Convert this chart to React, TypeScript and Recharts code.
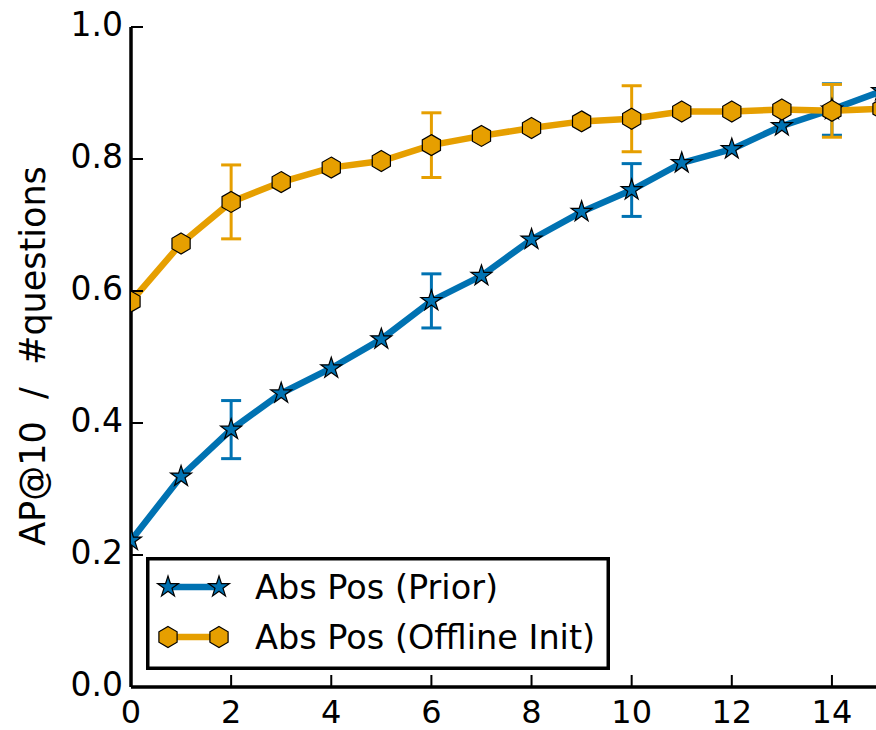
import React from 'react';
import { LineChart, Line, XAxis, YAxis, ErrorBar, Legend } from 'recharts';

const steps = [0, 1, 2, 3, 4, 5, 6, 7, 8, 9, 10, 11, 12, 13, 14, 15];
const prior = [0.222, 0.319, 0.39, 0.445, 0.483, 0.527, 0.585, 0.623, 0.678, 0.72, 0.753, 0.794, 0.815, 0.85, 0.875, 0.903];
const offline = [0.584, 0.672, 0.735, 0.765, 0.787, 0.797, 0.821, 0.835, 0.847, 0.857, 0.861, 0.872, 0.872, 0.875, 0.873, 0.876];
const priorErr = [null, null, 0.044, null, null, null, 0.041, null, null, null, 0.04, null, null, null, 0.039, null];
const offlineErr = [null, null, 0.056, null, null, null, 0.049, null, null, null, 0.05, null, null, null, 0.04, null];
const xTicks = [0, 2, 4, 6, 8, 10, 12, 14];
const yTicks = [0, 0.2, 0.4, 0.6, 0.8, 1.0];

const PRIOR_NAME = 'Abs Pos (Prior)';
const OFFLINE_NAME = 'Abs Pos (Offline Init)';
const legendOrder = [PRIOR_NAME, OFFLINE_NAME];
const BLUE = '#0072B2';
const ORANGE = '#E69F00';
const FONT = 'DejaVu Sans';
const TICK_LEN = 12;

const data = steps.map((s, i) => ({
  step: s,
  prior: prior[i],
  offline: offline[i],
  priorErr: priorErr[i],
  offlineErr: offlineErr[i],
}));

function starPoints(cx: number, cy: number, R: number) {
  const r = R * 0.382;
  const pts: string[] = [];
  for (let k = 0; k < 10; k++) {
    const a = -Math.PI / 2 + (k * Math.PI) / 5;
    const rad = k % 2 === 0 ? R : r;
    pts.push(`${cx + rad * Math.cos(a)},${cy + rad * Math.sin(a)}`);
  }
  return pts.join(' ');
}

function hexPoints(cx: number, cy: number, R: number) {
  const pts: string[] = [];
  for (let k = 0; k < 6; k++) {
    const a = -Math.PI / 2 + (k * Math.PI) / 3;
    pts.push(`${cx + R * Math.cos(a)},${cy + R * Math.sin(a)}`);
  }
  return pts.join(' ');
}

const Star = ({ cx, cy }: any) => (
  <polygon points={starPoints(cx, cy, 11)} fill={BLUE} stroke="#000" strokeWidth={1.2} />
);
const Hex = ({ cx, cy }: any) => (
  <polygon points={hexPoints(cx, cy, 10.5)} fill={ORANGE} stroke="#000" strokeWidth={1.2} />
);

const fmtY = (v: number) => v.toFixed(1);

const LeftTick = ({ x, y, payload }: any) => (
  <g>
    <line x1={x} y1={y} x2={x + TICK_LEN} y2={y} stroke="#000" strokeWidth={2} />
    <text x={x - 8} y={y + 8.5} textAnchor="end" fontSize={33} fontFamily={FONT} fill="#000">
      {fmtY(payload.value)}
    </text>
  </g>
);
const RightTick = ({ x, y }: any) => (
  <line x1={x - TICK_LEN} y1={y} x2={x} y2={y} stroke="#000" strokeWidth={2} />
);
const BottomTick = ({ x, y, payload }: any) => (
  <g>
    <line x1={x} y1={y} x2={x} y2={y - TICK_LEN} stroke="#000" strokeWidth={2} />
    <text x={x} y={y + 35.5} textAnchor="middle" fontSize={32} fontFamily={FONT} fill="#000">
      {payload.value}
    </text>
  </g>
);
const TopTick = ({ x, y }: any) => (
  <line x1={x} y1={y} x2={x} y2={y + TICK_LEN} stroke="#000" strokeWidth={2} />
);

const LegendBox = ({ payload }: any) => {
  const items = [...(payload || [])].sort(
    (a: any, b: any) => legendOrder.indexOf(a.value) - legendOrder.indexOf(b.value)
  );
  return (
    <svg width={464} height={113} style={{ display: 'block' }}>
      <rect x={1.75} y={1.75} width={460.5} height={109.5} fill="#fff" stroke="#000" strokeWidth={3.5} />
      {items.map((it: any, i: number) => {
        const cy = 30 + i * 50;
        const Marker = it.value === PRIOR_NAME ? Star : Hex;
        return (
          <g key={i}>
            <line x1={22} y1={cy} x2={73} y2={cy} stroke={it.color} strokeWidth={6.5} />
            <Marker cx={22} cy={cy} />
            <Marker cx={73} cy={cy} />
            <text x={109} y={cy + 11.5} fontSize={33.5} fontFamily={FONT} fill="#000">
              {it.value}
            </text>
          </g>
        );
      })}
    </svg>
  );
};

export default function App() {
  return (
    <div style={{ position: 'absolute', left: 0, top: 0, width: 876, height: 730, overflow: 'hidden', background: '#fff' }}>
      <LineChart width={900} height={730} data={data} margin={{ top: 27, right: 18, bottom: 0, left: 0 }}>
        <XAxis
          xAxisId="b"
          dataKey="step"
          type="number"
          domain={[0, 15]}
          ticks={xTicks}
          interval={0}
          allowDataOverflow
          height={43}
          tickSize={0}
          tickMargin={0}
          axisLine={{ stroke: '#000', strokeWidth: 3.5 }}
          tickLine={false}
          tick={<BottomTick />}
        />
        <XAxis
          xAxisId="t"
          orientation="top"
          dataKey="step"
          type="number"
          domain={[0, 15]}
          ticks={xTicks}
          interval={0}
          allowDataOverflow
          height={0}
          tickSize={0}
          tickMargin={0}
          axisLine={{ stroke: '#000', strokeWidth: 3.5 }}
          tickLine={false}
          tick={<TopTick />}
        />
        <YAxis
          yAxisId="l"
          type="number"
          domain={[0, 1]}
          ticks={yTicks}
          interval={0}
          width={131}
          tickSize={0}
          tickMargin={0}
          axisLine={{ stroke: '#000', strokeWidth: 3.5 }}
          tickLine={false}
          tick={<LeftTick />}
        />
        <YAxis
          yAxisId="r"
          orientation="right"
          type="number"
          domain={[0, 1]}
          ticks={yTicks}
          interval={0}
          width={0}
          tickSize={0}
          tickMargin={0}
          axisLine={{ stroke: '#000', strokeWidth: 3.5 }}
          tickLine={false}
          tick={<RightTick />}
        />
        <text
          x={45}
          y={356}
          transform="rotate(-90 45 356)"
          textAnchor="middle"
          fontSize={35}
          fontFamily={FONT}
          fill="#000"
          style={{ whiteSpace: 'pre' }}
        >
          {'AP@10  /  #questions'}
        </text>
        <Line
          xAxisId="b"
          yAxisId="l"
          name={PRIOR_NAME}
          dataKey="prior"
          stroke={BLUE}
          strokeWidth={6.5}
          isAnimationActive={false}
          activeDot={false}
          dot={(p: any) => <Star key={`s${p.index}`} cx={p.cx} cy={p.cy} />}
        >
          <ErrorBar dataKey="priorErr" direction="y" width={10} stroke={BLUE} strokeWidth={3} isAnimationActive={false} />
        </Line>
        <Line
          xAxisId="b"
          yAxisId="l"
          name={OFFLINE_NAME}
          dataKey="offline"
          stroke={ORANGE}
          strokeWidth={6.5}
          isAnimationActive={false}
          activeDot={false}
          dot={(p: any) => <Hex key={`h${p.index}`} cx={p.cx} cy={p.cy} />}
        >
          <ErrorBar dataKey="offlineErr" direction="y" width={10} stroke={ORANGE} strokeWidth={3} isAnimationActive={false} />
        </Line>
        <Legend
          layout="horizontal"
          verticalAlign="middle"
          align="center"
          wrapperStyle={{ left: 146, top: 557, width: 464, height: 113 }}
          content={<LegendBox />}
        />
      </LineChart>
    </div>
  );
}
